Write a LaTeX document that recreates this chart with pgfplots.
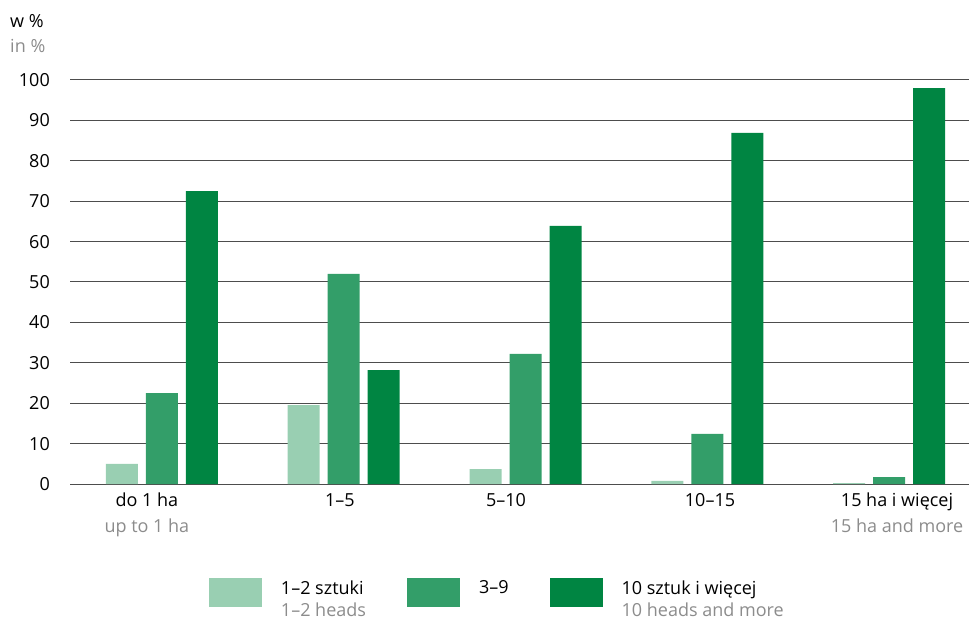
\documentclass[border=0pt]{standalone}
\usepackage{pgfplots}
\pgfplotsset{compat=1.18}
\usepackage{fontspec}
\setmainfont{Open Sans}
\definecolor{cLight}{HTML}{99CFB2}
\definecolor{cMid}{HTML}{339E69}
\definecolor{cDark}{HTML}{008542}
\definecolor{labgray}{HTML}{8C8C8C}
\definecolor{gridc}{HTML}{4D4D4D}
\pgfplotsset{
  boxlegend/.style={legend image code/.code={\fill[##1] (0bp,-8bp) rectangle (53bp,21bp);}},
}
\begin{document}
\begin{tikzpicture}
\useasboundingbox (-70bp,-136bp) rectangle (899bp,484bp);
\begin{axis}[
  scale only axis, width=899bp, height=404bp,
  xmin=-0.506, xmax=4.44, ymin=0, ymax=100,
  ybar=8bp, bar width=32bp,
  ytick={0,10,...,100},
  xtick={-0.083,0.979,1.893,3.015,4.044},
  xticklabels={{do 1 ha\\\textcolor{labgray}{up to 1 ha}},{1–5},{5–10},{10–15},{15 ha i więcej\\\textcolor{labgray}{15 ha and more}}},
  ymajorgrids, grid style={gridc, line width=1bp},
  axis line style={draw=none},
  major tick length=0pt,
  font=\fontsize{18bp}{26bp}\selectfont,
  /pgf/number format/assume math mode=true,
  yticklabel style={anchor=east, inner sep=0pt, xshift=-20bp},
  xticklabel style={anchor=north, align=center, inner sep=0pt, yshift=-9bp},
  clip=false,
  legend columns=3,
  legend style={at={(axis description cs:0.1546,-0.2327)}, anchor=north west, draw=none, fill=none,
    inner sep=0pt, outer sep=0pt,
    nodes={inner sep=0pt, align=left, font=\fontsize{18bp}{22bp}\selectfont},
    /tikz/every odd column/.append style={column sep=19bp},
    /tikz/every even column/.append style={column sep=41bp}},
]
\addplot[fill=cLight, draw=none, boxlegend] coordinates {(0,5.0) (1,19.5) (2,3.7) (3,0.8) (4,0.2)};
\addlegendentry{1–2 sztuki\\\textcolor{labgray}{1–2 heads}}
\addplot[fill=cMid, draw=none, boxlegend] coordinates {(0,22.5) (1,52.0) (2,32.2) (3,12.4) (4,1.7)};
\addlegendentry{3–9\\\mbox{}}
\addplot[fill=cDark, draw=none, boxlegend] coordinates {(0,72.5) (1,28.2) (2,63.9) (3,86.9) (4,98.0)};
\addlegendentry{10 sztuk i więcej\\\textcolor{labgray}{10 heads and more}}
\node[anchor=base west, inner sep=0pt] at (axis description cs:-0.0667,1.131) {w \%};
\node[anchor=base west, inner sep=0pt, text=labgray] at (axis description cs:-0.0667,1.067) {in \%};
\end{axis}
\end{tikzpicture}
\end{document}
